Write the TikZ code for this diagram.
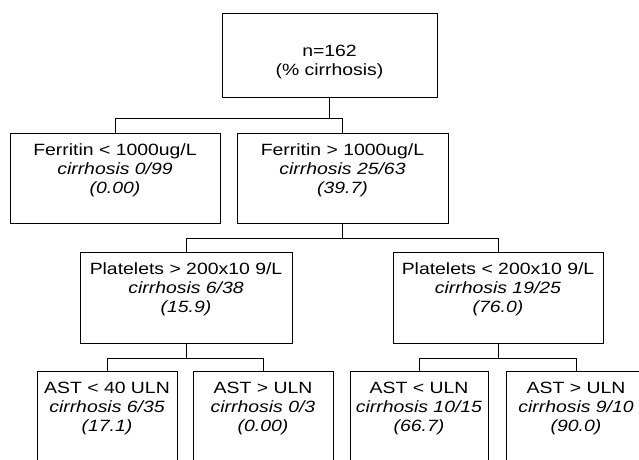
\documentclass[tikz,border=0pt]{standalone}
\usepackage{fontspec}
\setmainfont{Liberation Sans}[FakeStretch=1.19]
\usetikzlibrary{calc}

\begin{document}
\begin{tikzpicture}[x=1pt, y=-1pt, font=\fontsize{16.3}{19}\selectfont,
    box/.style={draw, line width=0.9pt, inner sep=0pt},
    boxtext/.style={align=center, inner sep=0pt, anchor=base},
    branch/.style={line width=0.9pt}]
  % a split box: name, centre x, top y, width, height, text (last baseline 60 below the top)
  \newcommand{\splitbox}[6]{%
    \node[box, anchor=north, minimum width=#4pt, minimum height=#5pt] (#1) at (#2,#3) {};
    \node[boxtext] (#1-txt) at ($(#1.north)+(0,60)$) {#6};
  }
  \useasboundingbox (0,0) rectangle (639,459);
  \clip (0,0) rectangle (639,459);
  % ------------------------------------------------------------------ all patients
  \node[box, anchor=north, minimum width=215pt, minimum height=84pt] (root) at (329.5,13) {};
  \node[boxtext] (root-txt) at ($(root.north)+(0,62)$) {n=162\\(\% cirrhosis)};
  % ------------------------------------------------------------------ ferritin
  \splitbox{ferlo}{115}{133}{210}{90}{Ferritin < 1000ug/L\\\textit{cirrhosis 0/99}\\\textit{(0.00)}}
  \splitbox{ferhi}{342.5}{133}{211}{90}{Ferritin > 1000ug/L\\\textit{cirrhosis 25/63}\\\textit{(39.7)}}
  % ------------------------------------------------------------------ platelets
  \splitbox{plthi}{186}{252}{212}{91}{Platelets > 200x10 9/L\\\textit{cirrhosis 6/38}\\\textit{(15.9)}}
  \splitbox{pltlo}{498}{252}{210}{91}{Platelets < 200x10 9/L\\\textit{cirrhosis 19/25}\\\textit{(76.0)}}
  % ------------------------------------------------------------------ AST
  \splitbox{astA}{107}{371}{140}{90}{AST < 40 ULN\\\textit{cirrhosis 6/35}\\\textit{(17.1)}}
  \splitbox{astB}{263}{371}{140}{90}{AST > ULN\\\textit{cirrhosis 0/3}\\\textit{(0.00)}}
  \splitbox{astC}{419}{371}{138}{90}{AST < ULN\\\textit{cirrhosis 10/15}\\\textit{(66.7)}}
  \splitbox{astD}{576}{371}{140}{90}{AST > ULN\\\textit{cirrhosis 9/10}\\\textit{(90.0)}}
  % ------------------------------------------------------------------ branches
  \draw[branch] (root.south) -- ++(0,21) -| (ferlo.north);
  \draw[branch] (root.south) -- ++(0,21) -| (ferhi.north);
  \draw[branch] (ferhi.south) -- ++(0,15) -| (plthi.north);
  \draw[branch] (ferhi.south) -- ++(0,15) -| (pltlo.north);
  \draw[branch] (plthi.south) -- ++(0,15) -| (astA.north);
  \draw[branch] (plthi.south) -- ++(0,15) -| (astB.north);
  \draw[branch] (pltlo.south) -- ++(0,15) -| (astC.north);
  \draw[branch] (pltlo.south) -- ++(0,15) -| (astD.north);
\end{tikzpicture}
\end{document}
